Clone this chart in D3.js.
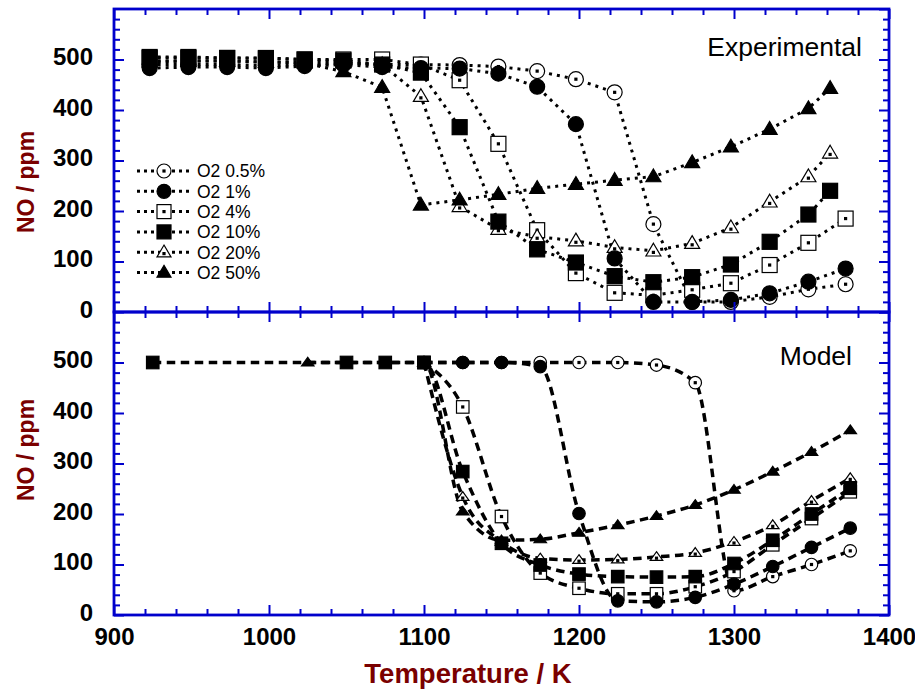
<!DOCTYPE html>
<html><head><meta charset="utf-8">
<script src="https://cdn.jsdelivr.net/npm/d3@7"></script>
<style>
html,body{margin:0;padding:0;background:#fff;}
svg{display:block;}
</style></head>
<body>
<svg id="chart" width="915" height="691"></svg>
<script>
// ---------------- DATA ----------------
const seriesNames = ["O2 0.5%", "O2 1%", "O2 4%", "O2 10%", "O2 20%", "O2 50%"];
const seriesSymbols = ["circleDot", "circle", "squareDot", "square", "triangleDot", "triangle"];

// Experimental (top panel)
const expT_std = [923, 948, 973, 998, 1023, 1048, 1073, 1098, 1123, 1148, 1173, 1198, 1223, 1248, 1273, 1298, 1323, 1348, 1372];
const expT_short = [923, 948, 973, 998, 1023, 1048, 1073, 1098, 1123, 1148, 1173, 1198, 1223, 1248, 1273, 1298, 1323, 1348, 1362];
const exp05 = [490, 490, 490, 488, 490, 492, 490, 490, 489, 486, 477, 461, 435, 174, 20, 20, 30, 45, 55];
const exp1  = [483, 485, 485, 483, 487, 490, 485, 483, 482, 472, 446, 372, 106, 20, 20, 24, 37, 60, 86];
const exp4  = [505, 505, 503, 503, 500, 500, 500, 490, 459, 333, 162, 77, 38, 33, 44, 57, 93, 137, 185];
const exp10 = [503, 503, 503, 502, 500, 498, 490, 474, 366, 179, 124, 98, 71, 59, 69, 94, 139, 193, 240];
const exp20 = [495, 497, 497, 495, 495, 495, 490, 427, 209, 164, 149, 141, 128, 121, 136, 167, 218, 268, 315];
const exp50 = [497, 497, 497, 495, 493, 476, 445, 212, 222, 233, 245, 253, 261, 268, 296, 327, 362, 403, 443];

// Model (bottom panel)
const modT_main = [1100, 1125, 1150, 1175, 1200, 1225, 1250, 1275, 1300, 1325, 1350, 1375];
const modT_10 = [925, 1050, 1075, 1100, 1125, 1150, 1175, 1200, 1225, 1250, 1275, 1300, 1325, 1350, 1375];
const modT_50 = [1025, 1100, 1125, 1150, 1175, 1200, 1225, 1250, 1275, 1300, 1325, 1350, 1375];
const mod05 = [500, 500, 500, 500, 500, 500, 495, 460, 48, 76, 100, 127];
const mod1  = [500, 500, 500, 492, 201, 28, 26, 35, 61, 96, 134, 172];
const mod4  = [500, 412, 195, 83, 53, 42, 42, 56, 86, 139, 191, 244];
const mod10 = [500, 500, 500, 500, 284, 142, 99, 81, 76, 75, 76, 102, 148, 200, 251];
const mod20 = [500, 234, 145, 112, 109, 110, 115, 123, 145, 178, 226, 271];
const mod50 = [500, 500, 205, 148, 150, 163, 178, 196, 218, 248, 284, 323, 366];

// Axis ticks
const xMajor = [900, 1000, 1100, 1200, 1300, 1400];
const yMajor = [0, 100, 200, 300, 400, 500];

// ---------------- LAYOUT ----------------
const L = 114, R = 889, T1 = 9, MID = 312, B2 = 615;
const blue = "#0000CC";
const maroon = "#7A0000";

const svg = d3.select("#chart");
const x = d3.scaleLinear().domain([900, 1400]).range([L, R]);
const yTop = d3.scaleLinear().domain([0, 600]).range([MID, T1]);
const yBot = d3.scaleLinear().domain([0, 600]).range([B2, MID]);

const xMinor = d3.range(900, 1401, 20).filter(v => v % 100 !== 0);
const yMinor = d3.range(0, 601, 20).filter(v => v % 100 !== 0);

const expData = [
  {T: expT_std, v: exp05}, {T: expT_std, v: exp1}, {T: expT_std, v: exp4},
  {T: expT_short, v: exp10}, {T: expT_short, v: exp20}, {T: expT_short, v: exp50}
];
const modData = [
  {T: modT_main, v: mod05}, {T: modT_main, v: mod1}, {T: modT_main, v: mod4},
  {T: modT_10, v: mod10}, {T: modT_main, v: mod20}, {T: modT_50, v: mod50}
];

function drawMarker(g, type, cx, cy, s, triH) {
  const open = type.endsWith("Dot");
  const fill = open ? "#fff" : "#000";
  const base = type.replace("Dot", "");
  if (base === "circle") {
    g.append("circle").attr("cx", cx).attr("cy", cy).attr("r", s / 2)
      .attr("fill", fill).attr("stroke", "#000").attr("stroke-width", 1.2);
  } else if (base === "square") {
    g.append("rect").attr("x", cx - s / 2).attr("y", cy - s / 2).attr("width", s).attr("height", s)
      .attr("fill", fill).attr("stroke", "#000").attr("stroke-width", 1.2);
  } else {
    const h = s * (triH || 0.85);
    g.append("path").attr("d", `M${cx},${cy - h * 0.6}L${cx + s / 2},${cy + h * 0.4}L${cx - s / 2},${cy + h * 0.4}Z`)
      .attr("fill", fill).attr("stroke", "#000").attr("stroke-width", 1.2);
  }
  if (open) {
    const dy = base === "triangle" ? s * 0.1 : 0;
    g.append("rect").attr("x", cx - 1.6).attr("y", cy + dy - 1.6).attr("width", 3.2).attr("height", 3.2).attr("fill", "#000");
  }
}

function drawPanel(y, data, dash, width, curve, msize, triH) {
  const g = svg.append("g");
  const order = [0, 2, 4, 3, 1, 5];
  order.forEach(i => {
    const d = data[i];
    const pts = d.T.map((t, k) => [t, d.v[k]]);
    const line = d3.line().x(p => x(p[0])).y(p => y(p[1])).curve(curve);
    g.append("path").attr("d", line(pts)).attr("fill", "none").attr("stroke", "#000")
      .attr("stroke-width", width).attr("stroke-dasharray", dash);
  });
  order.forEach(i => {
    const d = data[i];
    d.T.forEach((t, k) => drawMarker(g, seriesSymbols[i], x(t), y(d.v[k]), msize, triH));
  });
}

drawPanel(yTop, expData, "3,5", 3, d3.curveLinear, 15, 0.85);
drawPanel(yBot, modData, "8.5,5.5", 3.5, d3.curveMonotoneX, 12.5, 0.7);

// ---------------- AXES ----------------
const font = "'Liberation Sans', Arial, sans-serif";
function axes(y, top, bottom, labelsX) {
  const tick = (axis, pos, size, vals, labels, pad) => {
    const gg = svg.append("g").attr("transform", pos)
      .call(axis.tickValues(vals).tickSize(size).tickPadding(pad || 3)
        .tickFormat(labels ? d3.format("d") : () => ""));
    gg.select(".domain").remove();
    gg.selectAll(".tick line").attr("stroke", blue).attr("stroke-width", 2);
    gg.selectAll("text").attr("font-family", font)
      .attr("font-weight", "bold").attr("font-size", 24).attr("fill", "#000");
    return gg;
  };
  const lg = tick(d3.axisLeft(y), `translate(${L},0)`, -10, yMajor, true, 21);
  lg.selectAll("text").attr("dy", "0.22em");
  tick(d3.axisLeft(y), `translate(${L},0)`, -6, yMinor, false);
  tick(d3.axisRight(y), `translate(${R},0)`, -10, yMajor.concat([600]), false);
  tick(d3.axisRight(y), `translate(${R},0)`, -6, yMinor, false);
  tick(d3.axisTop(x), `translate(0,${top})`, -10, xMajor, false);
  tick(d3.axisTop(x), `translate(0,${top})`, -6, xMinor, false);
  tick(d3.axisBottom(x), `translate(0,${bottom})`, -10, xMajor, labelsX, 13);
  tick(d3.axisBottom(x), `translate(0,${bottom})`, -6, xMinor, false);
}
axes(yTop, T1, MID, false);
axes(yBot, MID, B2, true);

// frames
svg.append("rect").attr("x", L).attr("y", T1).attr("width", R - L).attr("height", MID - T1)
  .attr("fill", "none").attr("stroke", blue).attr("stroke-width", 2.8);
svg.append("rect").attr("x", L).attr("y", MID).attr("width", R - L).attr("height", B2 - MID)
  .attr("fill", "none").attr("stroke", blue).attr("stroke-width", 2.8);

// ---------------- TEXT ----------------
svg.append("text").attr("x", 862).attr("y", 56).attr("text-anchor", "end")
  .attr("font-family", font).attr("font-size", 26.5).text("Experimental");
svg.append("text").attr("x", 852).attr("y", 365).attr("text-anchor", "end")
  .attr("font-family", font).attr("font-size", 26.5).text("Model");

svg.append("text").attr("x", 468).attr("y", 683).attr("text-anchor", "middle")
  .attr("font-family", font).attr("font-weight", "bold").attr("font-size", 27.5)
  .attr("fill", maroon).text("Temperature / K");

[182, 450].forEach(cy => {
  svg.append("text").attr("transform", `translate(34,${cy}) rotate(-90)`).attr("text-anchor", "middle")
    .attr("font-family", font).attr("font-weight", "bold").attr("font-size", 23)
    .attr("fill", maroon).text("NO / ppm");
});

// legend
const leg = svg.append("g");
seriesNames.forEach((name, i) => {
  const cy = 171 + i * 20.3;
  leg.append("line").attr("x1", 137).attr("x2", 190).attr("y1", cy).attr("y2", cy)
    .attr("stroke", "#000").attr("stroke-width", 3).attr("stroke-dasharray", "3,4");
  drawMarker(leg, seriesSymbols[i], 164, cy, 14, 0.85);
  leg.append("text").attr("x", 197).attr("y", cy).attr("dy", "0.36em")
    .attr("font-family", font).attr("font-size", 17.5).text(name);
});
</script>
</body></html>
